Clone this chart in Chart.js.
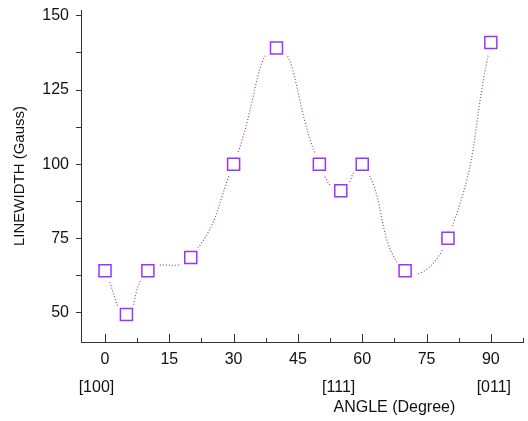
<!DOCTYPE html>
<html>
<head>
<meta charset="utf-8">
<script src="https://cdn.jsdelivr.net/npm/chart.js@4/dist/chart.umd.min.js"></script>
<style>
  html, body { margin: 0; padding: 0; background: #fff; }
</style>
</head>
<body>
<canvas id="chart" width="528" height="421"></canvas>
<script>
// angle (deg) vs linewidth (Gauss)
const angles = [0, 5, 10, 20, 30, 40, 50, 55, 60, 70, 80, 90];
const linewidths = [64, 49.3, 64, 68.5, 100, 139.2, 100, 91, 100, 64, 75, 141];

const xTickValues = [0, 15, 30, 45, 60, 75, 90];
const yTickValues = [50, 62.5, 75, 87.5, 100, 112.5, 125, 137.5, 150];

// crystal directions written under the angle axis
const directionLabels = ['[100]', '[111]', '[011]'];
const directionAngles = [-2, 54.5, 90.7];

const xTitle = 'ANGLE (Degree)';
const yTitle = 'LINEWIDTH (Gauss)';

const FONT = '"Liberation Sans", Arial, sans-serif';
const AXIS_COLOR = '#333';

const points = angles.map((a, i) => ({ x: a, y: linewidths[i] }));

// chart.js reserves room for edge labels, we don't want that here
function noEdgePadding(scale) {
    scale.paddingLeft = 0;
    scale.paddingRight = 0;
    scale.paddingTop = 0;
    scale.paddingBottom = 0;
}

// inward tick marks on the angle axis, plus the text below it
const angleAxisExtras = {
    id: 'angleAxisExtras',
    afterDraw(chart) {
        const ctx = chart.ctx;
        const xs = chart.scales.x;
        const bottom = chart.chartArea.bottom;
        ctx.save();
        ctx.strokeStyle = AXIS_COLOR;
        ctx.lineWidth = 1;
        for (let v = 0; v <= xs.max + 0.01; v += 7.5) {
            const px = Math.round(xs.getPixelForValue(v)) + 0.5;
            const len = (v % 15 === 0) ? 8 : 4;
            ctx.beginPath();
            ctx.moveTo(px, bottom);
            ctx.lineTo(px, bottom - len);
            ctx.stroke();
        }
        ctx.fillStyle = '#111';
        ctx.textAlign = 'center';
        ctx.textBaseline = 'middle';
        ctx.font = '16px ' + FONT;
        directionLabels.forEach((txt, i) => {
            ctx.fillText(txt, xs.getPixelForValue(directionAngles[i]), bottom + 46);
        });
        ctx.fillText(xTitle, xs.getPixelForValue(67.5), bottom + 66);
        ctx.restore();
    }
};

new Chart(document.getElementById('chart'), {
    type: 'scatter',
    data: {
        datasets: [
            {
                // smooth dotted curve
                data: points,
                showLine: true,
                borderColor: '#9c3fa0',
                borderWidth: 1.2,
                borderDash: [1, 2],
                tension: 0.5,
                pointRadius: 0,
                order: 3
            },
            {
                // white halo so the curve stops short of the markers
                data: points,
                showLine: false,
                pointStyle: 'circle',
                pointRadius: 12,
                backgroundColor: '#fff',
                borderColor: '#fff',
                borderWidth: 0,
                order: 2
            },
            {
                data: points,
                showLine: false,
                pointStyle: 'rect',
                pointRadius: 8.5,
                backgroundColor: '#fff',
                borderColor: '#9933ff',
                borderWidth: 1.5,
                order: 1
            }
        ]
    },
    options: {
        responsive: false,
        animation: false,
        layout: {
            autoPadding: false,
            padding: { left: 0, right: 5, top: 10, bottom: 0 }
        },
        plugins: {
            legend: { display: false },
            tooltip: { enabled: false }
        },
        scales: {
            x: {
                type: 'linear',
                min: -5.6,
                max: 97.5,
                afterBuildTicks: (scale) => {
                    scale.ticks = xTickValues.map(v => ({ value: v }));
                },
                afterFit: (scale) => {
                    scale.height = 79;
                    noEdgePadding(scale);
                },
                grid: { display: false, drawTicks: false },
                border: { display: true, color: AXIS_COLOR, width: 1 },
                ticks: {
                    padding: 8,
                    color: '#111',
                    maxRotation: 0,
                    font: { family: FONT, size: 16 }
                }
            },
            y: {
                min: 40,
                max: 152,
                afterBuildTicks: (scale) => {
                    scale.ticks = yTickValues.map(v => ({ value: v }));
                },
                afterFit: (scale) => {
                    scale.width = 81;
                    noEdgePadding(scale);
                },
                grid: {
                    display: true,
                    drawOnChartArea: false,
                    tickLength: 5,
                    color: AXIS_COLOR
                },
                border: { display: true, color: AXIS_COLOR, width: 1 },
                ticks: {
                    padding: 7,
                    color: '#111',
                    font: { family: FONT, size: 16 },
                    callback: (v) => (v % 25 === 0 ? String(v) : '')
                },
                title: {
                    display: true,
                    text: yTitle,
                    color: '#111',
                    font: { family: FONT, size: 15 },
                    padding: { top: 11, bottom: 0 }
                }
            }
        }
    },
    plugins: [angleAxisExtras]
});
</script>
</body>
</html>
